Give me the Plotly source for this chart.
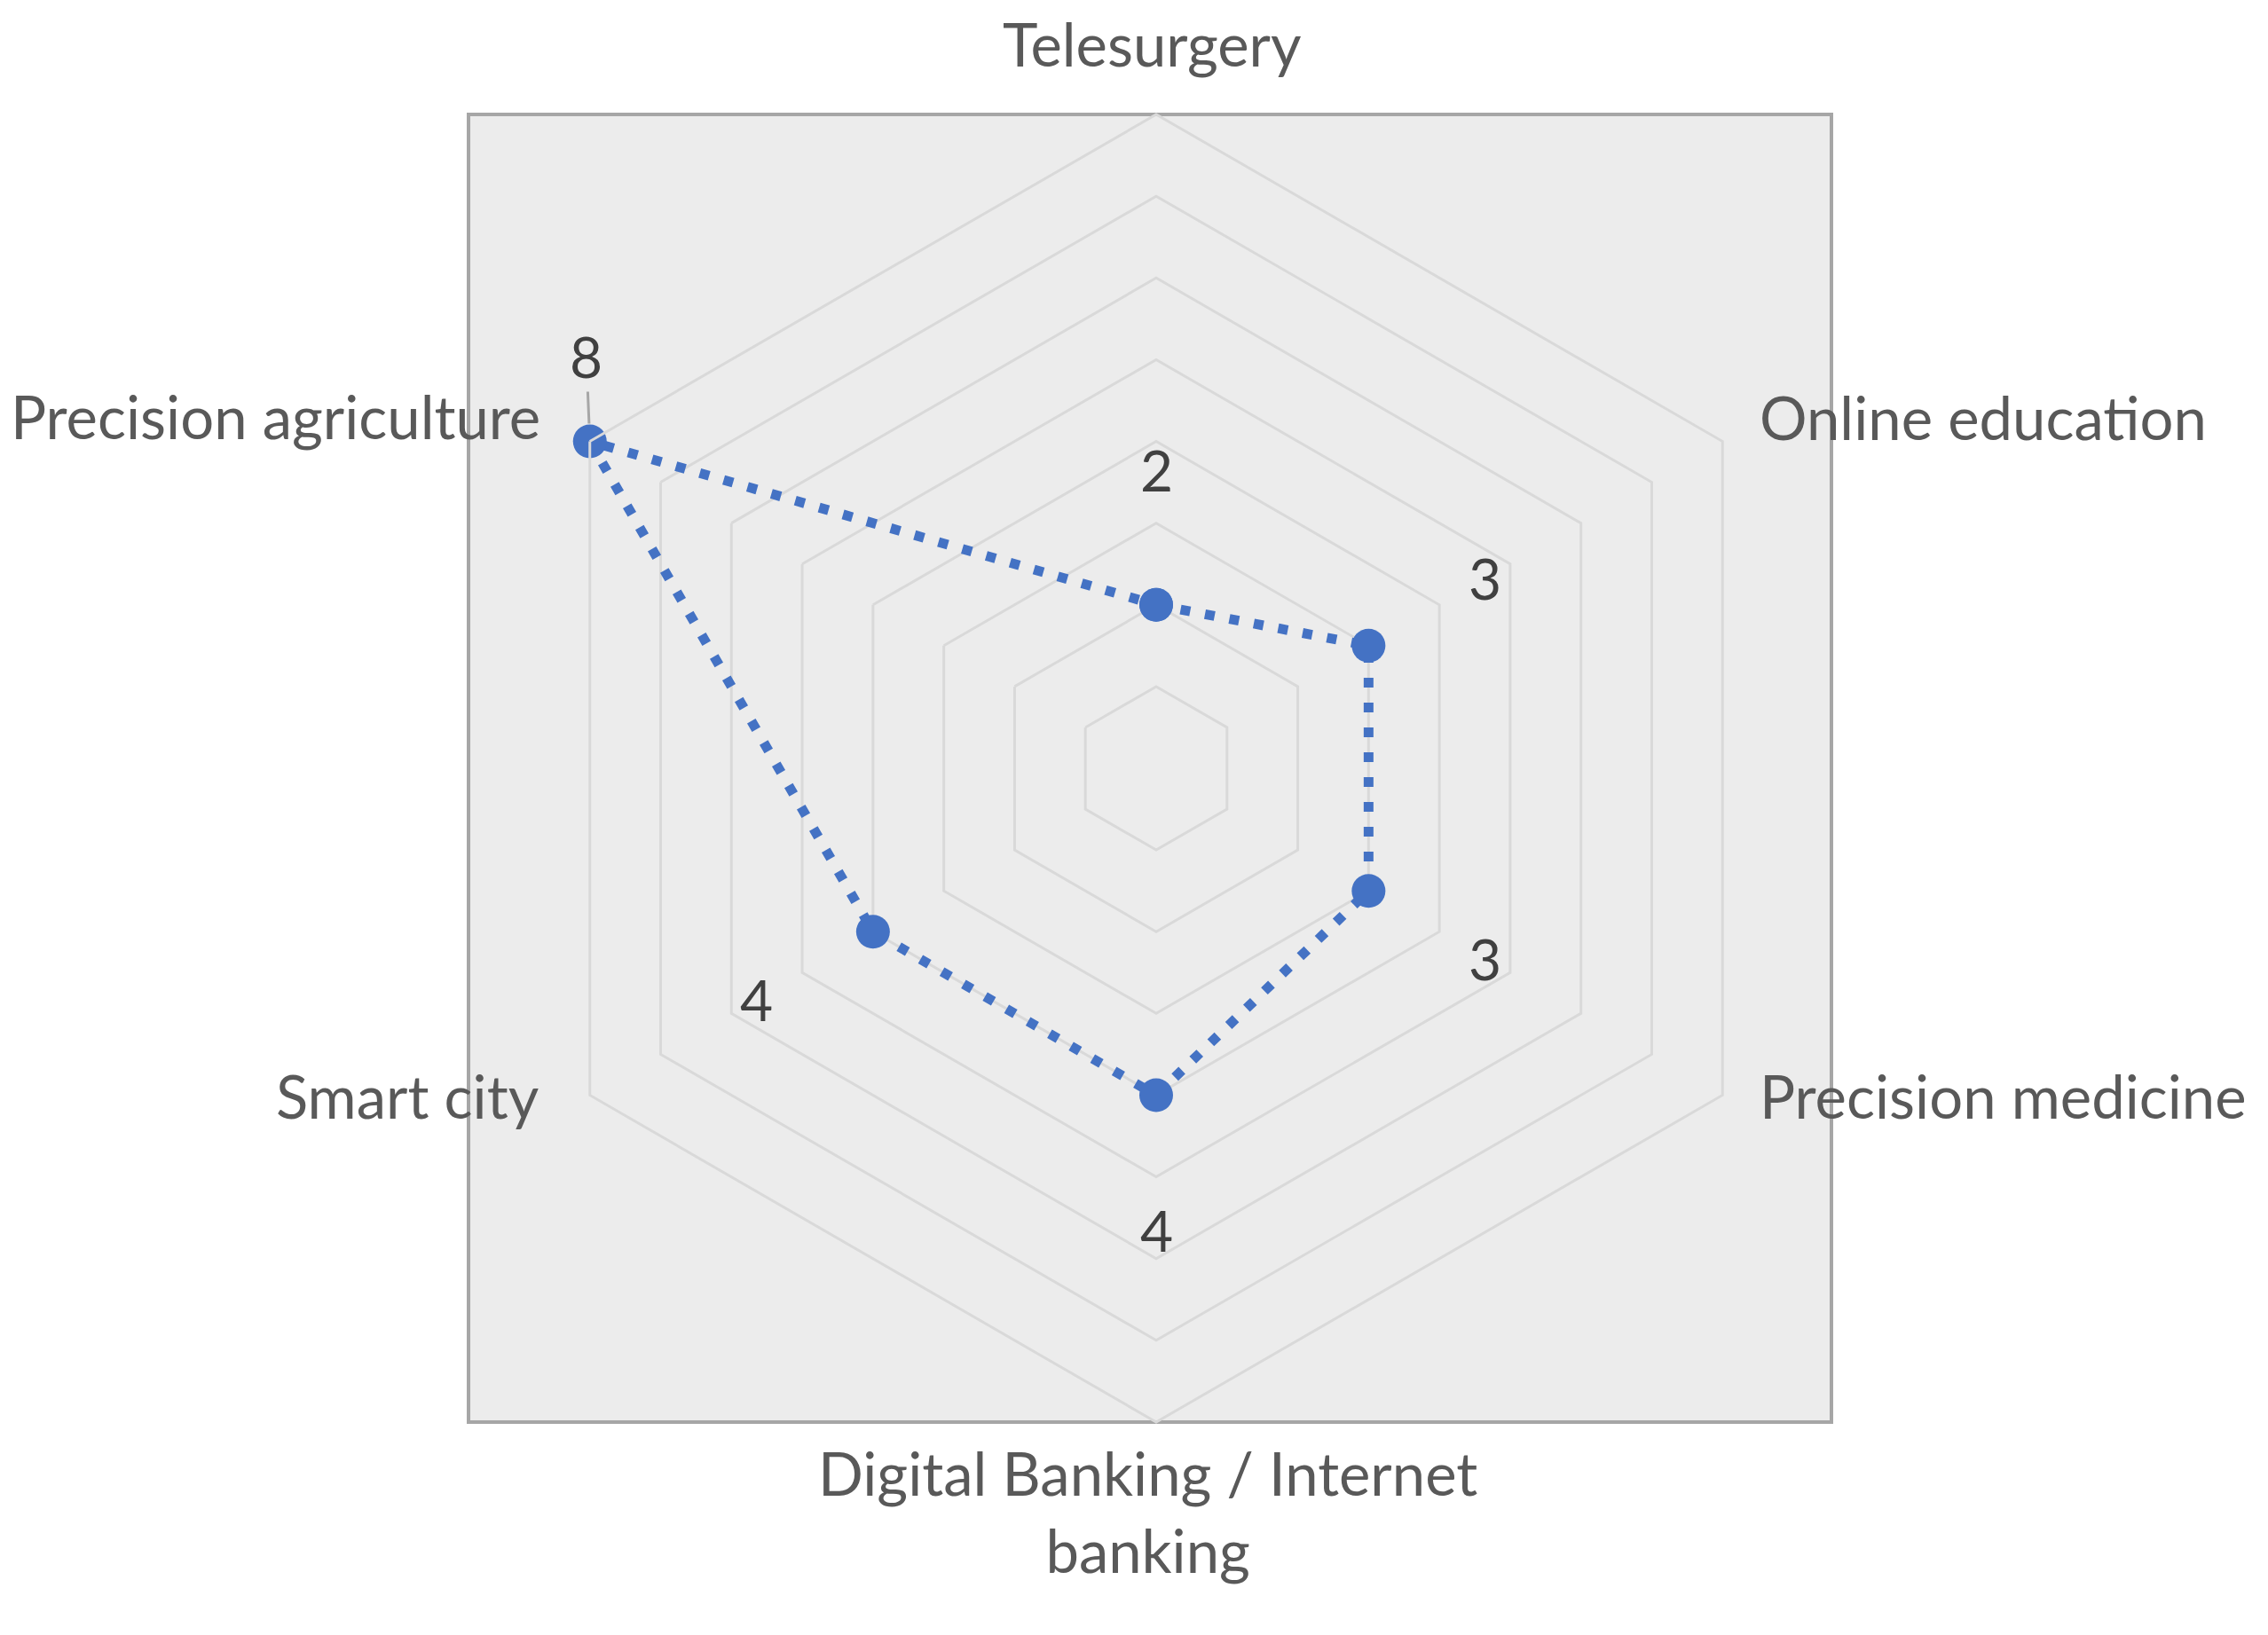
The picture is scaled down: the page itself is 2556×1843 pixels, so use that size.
import math
import plotly.graph_objects as go

# Données du graphique radar
categories = [
    "Telesurgery",
    "Online education",
    "Precision medicine",
    "Digital Banking / Internet<br>banking",
    "Smart city",
    "Precision agriculture",
]
values = [2, 3, 3, 4, 4, 8]
value_labels = ["2", "3", "3", "4", "4", "8"]
radial_max = 8

# Géométrie de la page (px)
W, H = 2556, 1843
CX, CY, R = 1295, 858, 737
BOX_X0, BOX_X1 = 520, 2056

BLUE = "#4472C4"
GRID = "#d9d9d9"
FONT = "Lato"

# décalage des libellés de catégories par rapport aux sommets (px)
cat_style = [
    dict(xanchor="center", xshift=-5, yshift=80),
    dict(xanchor="left", xshift=40, yshift=28),
    dict(xanchor="left", xshift=40, yshift=0),
    dict(xanchor="center", xshift=-10, yshift=-100),
    dict(xanchor="right", xshift=-56, yshift=0),
    dict(xanchor="right", xshift=-54, yshift=28),
]

dom_x = [(CX - R) / W, (CX + R) / W]
dom_y = [1 - (CY + R) / H, 1 - (CY - R) / H]


def to_paper(v, i, n):
    # position (paper) d'une valeur sur l'axe i du radar
    ang = math.radians(90 - 360 / n * i)
    px = CX + R * v / radial_max * math.cos(ang)
    py = CY - R * v / radial_max * math.sin(ang)
    return px / W, 1 - py / H, ang


fig = go.Figure()

fig.add_trace(go.Scatterpolar(
    r=values + values[:1],
    theta=categories + categories[:1],
    mode="lines+markers",
    line=dict(color=BLUE, width=11, dash="11px,17px"),
    marker=dict(color=BLUE, size=38),
    showlegend=False,
    hoverinfo="skip",
))

annotations = []
n = len(categories)

# Libellés des catégories
for i, cat in enumerate(categories):
    x, y, _ = to_paper(radial_max, i, n)
    annotations.append(dict(
        x=x, y=y, xref="paper", yref="paper", text=cat, showarrow=False,
        yanchor="middle", align="center",
        font=dict(family=FONT, size=67, color="#595959"),
        **cat_style[i],
    ))

# Étiquettes de données
for i, (v, lab) in enumerate(zip(values, value_labels)):
    x, y, ang = to_paper(v, i, n)
    if v == radial_max:
        ax, ay, acol = -4, -96, "#a6a6a6"
    else:
        ax, ay, acol = 152 * math.cos(ang), -152 * math.sin(ang), "rgba(0,0,0,0)"
    annotations.append(dict(
        x=x, y=y, xref="paper", yref="paper",
        text=lab, showarrow=True, ax=ax, ay=ay,
        arrowhead=0, arrowwidth=3, arrowcolor=acol, standoff=20,
        font=dict(family=FONT, size=64, color="#404040"),
    ))

fig.update_layout(
    width=W, height=H,
    margin=dict(l=0, r=0, t=0, b=0),
    paper_bgcolor="white",
    font=dict(family=FONT, color="#595959"),
    polar=dict(
        domain=dict(x=dom_x, y=dom_y),
        bgcolor="rgba(0,0,0,0)",
        gridshape="linear",
        radialaxis=dict(
            range=[0, radial_max], dtick=1, tick0=0,
            showticklabels=False, ticks="", showline=False,
            gridcolor=GRID, gridwidth=3,
        ),
        angularaxis=dict(
            direction="clockwise", rotation=90,
            showgrid=False, showline=True, linecolor=GRID, linewidth=3,
            ticks="", showticklabels=False,
        ),
    ),
    shapes=[dict(
        type="rect", xref="paper", yref="paper", layer="below",
        x0=BOX_X0 / W, x1=BOX_X1 / W, y0=dom_y[0], y1=dom_y[1],
        fillcolor="#ececec", line=dict(color="#a6a6a6", width=4),
    )],
    annotations=annotations,
)

fig.write_html("out.html")
